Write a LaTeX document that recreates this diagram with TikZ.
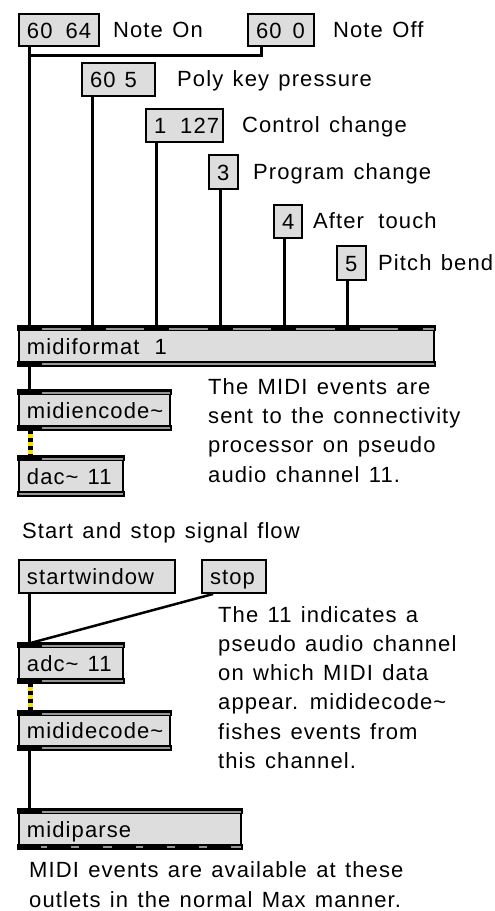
\documentclass[tikz,border=0pt]{standalone}
\usepackage{fontspec}
\setmainfont{Liberation Sans}[LetterSpace=5,WordSpace=1.3]
\definecolor{boxgray}{RGB}{221,221,221}
\definecolor{stripegray}{RGB}{150,150,150}
\definecolor{sigyellow}{RGB}{250,222,0}
\newcommand\objbands[1]{%
  \fill[black] ([shift={(-1pt,1pt)}]#1.north west) rectangle ([shift={(1pt,-5pt)}]#1.north east);
  \fill[stripegray] ([shift={(1pt,-1.5pt)}]#1.north west) rectangle ([shift={(-1pt,-3.5pt)}]#1.north east);
  \fill[black] ([shift={(-1pt,5pt)}]#1.south west) rectangle ([shift={(1pt,-1pt)}]#1.south east);
  \fill[stripegray] ([shift={(1pt,3.5pt)}]#1.south west) rectangle ([shift={(-1pt,1.5pt)}]#1.south east);
}
\newcommand\inlets[3]{% name, width, offsets from outer left
  \foreach \o in {#3} {\fill[black] ([xshift=\o-1,yshift=1pt]#1.north west) rectangle ++(#2pt,-6pt);}
}
\newcommand\outlets[3]{%
  \foreach \o in {#3} {\fill[black] ([xshift=\o-1,yshift=-1pt]#1.south west) rectangle ++(#2pt,6pt);}
}
\begin{document}
\begin{tikzpicture}[x=1pt,y=-1pt,
  every node/.style={font=\fontsize{22}{29.3}\selectfont},
  box/.style={draw=black, line width=2pt, fill=boxgray, anchor=north west,
    inner xsep=8pt, inner ysep=0pt, text height=16pt, text depth=0pt, align=left},
  cord/.style={line width=3pt},
  sig/.style={line width=5pt, draw=black, dash pattern=on 4pt off 4pt,
    preaction={draw=sigyellow, solid, line width=5pt}},
  txt/.style={anchor=base west, inner sep=0pt, align=left},
]
\useasboundingbox (0,0) rectangle (495,911);

% message boxes
\node[box, text width=64pt, minimum height=32pt] (m1) at (18,13) {\mbox{60\hspace{13pt}64}};
\node[box, text width=50pt, minimum height=32pt] (m2) at (247,13) {\mbox{60\hspace{11pt}0}};
\node[box, text width=57pt, minimum height=33pt] (m3) at (81,62) {\mbox{60\hspace{9pt}5}};
\node[box, text width=61pt, minimum height=33pt] (m4) at (145,108) {\mbox{1\hspace{14pt}127}};
\node[box, text width=13pt, minimum height=34pt] (m5) at (208,154) {\mbox{3}};
\node[box, text width=12pt, minimum height=33pt] (m6) at (273,204) {\mbox{4}};
\node[box, text width=13pt, minimum height=34pt] (m7) at (336,245) {\mbox{5}};

% labels
\node[txt] (t1) at (113,37) {Note On};
\node[txt] (t2) at (333,37) {Note Off};
\node[txt] (t3) at (177,86.5) {Poly key pressure};
\node[txt] (t4) at (242,132.5) {Control change};
\node[txt] (t5) at (253,179) {Program change};
\node[txt] (t6) at (313,228.5) {After\hspace{5pt} touch};
\node[txt] (t7) at (378,270) {Pitch bend};

% objects
\node[box, text width=399pt, minimum height=38pt] (mf) at (18,326) {\mbox{midiformat\hspace{15pt}1}};
\node[box, text width=135pt, minimum height=38pt] (menc) at (18,390) {\mbox{midiencode\textasciitilde}};
\node[box, text width=88pt, minimum height=38pt] (dac) at (18,456) {\mbox{dac\textasciitilde\hspace{9pt}11}};
\node[box, text width=140pt, minimum height=33pt] (sw) at (18,559) {\mbox{startwindow}};
\node[box, text width=48pt, minimum height=33pt] (stop) at (201,559) {\mbox{stop}};
\node[box, text width=88pt, minimum height=38pt] (adc) at (18,643) {\mbox{adc\textasciitilde\hspace{9pt}11}};
\node[box, text width=135pt, minimum height=37pt] (mdec) at (18,711) {\mbox{mididecode\textasciitilde}};
\node[box, text width=206pt, minimum height=38pt] (mp) at (18,809) {\mbox{midiparse}};

\objbands{mf}\inlets{mf}{25}{0,63.5,127,190.5,254,317.5,381}\outlets{mf}{25}{0}
\objbands{menc}\inlets{menc}{25}{0}\outlets{menc}{25}{0}
\objbands{dac}\inlets{dac}{25}{0}
\objbands{adc}\inlets{adc}{25}{0}\outlets{adc}{25}{0}
\objbands{mdec}\inlets{mdec}{25}{0}\outlets{mdec}{25}{0}
\objbands{mp}\inlets{mp}{25}{0}\outlets{mp}{24}{0,30.3,62.3,94.7,126.3,158,189.7}

% comments (base anchor = last line's baseline)
\node[txt] (c1) at (208,482) {The MIDI events are\\sent to the connectivity\\processor on pseudo\\audio channel 11.};
\node[txt] (c2) at (22,538) {Start and stop signal flow};
\node[txt] (c3) at (218,768.5) {The 11 indicates a\\pseudo audio channel\\on which MIDI data\\appear. mididecode\textasciitilde\\fishes events from\\this channel.};
\node[txt] (c4) at (29,907) {MIDI events are available at these\\outlets in the normal Max manner.};

% cords
\draw[cord] ([xshift=11.5]m1.south west) -- ([xshift=11.5]m1.south west |- mf.north);
\draw[cord] ([xshift=14]m2.south west) -- ++(0pt,-8pt) -| ([xshift=11.5]m1.south west);
\draw[cord] ([xshift=11.5]m3.south west) -- ([xshift=11.5]m3.south west |- mf.north);
\draw[cord] ([xshift=11.5]m4.south west) -- ([xshift=11.5]m4.south west |- mf.north);
\draw[cord] ([xshift=12]m5.south west) -- ([xshift=12]m5.south west |- mf.north);
\draw[cord] ([xshift=11.5]m6.south west) -- ([xshift=11.5]m6.south west |- mf.north);
\draw[cord] ([xshift=11.5]m7.south west) -- ([xshift=11.5]m7.south west |- mf.north);
\draw[cord] ([xshift=11.5]mf.south west) -- ([xshift=11.5]menc.north west);
\draw[sig] ([xshift=12.5]menc.south west) -- ([xshift=12.5]dac.north west);
\draw[cord] ([xshift=11.5]sw.south west) -- ([xshift=11.5]adc.north west);
\draw[cord, line width=2.5pt] ([xshift=12]stop.south west) -- ([xshift=12.5]adc.north west);
\draw[sig] ([xshift=12.5]adc.south west) -- ([xshift=12.5]mdec.north west);
\draw[cord] ([xshift=11.5]mdec.south west) -- ([xshift=11.5]mp.north west);
\end{tikzpicture}
\end{document}
